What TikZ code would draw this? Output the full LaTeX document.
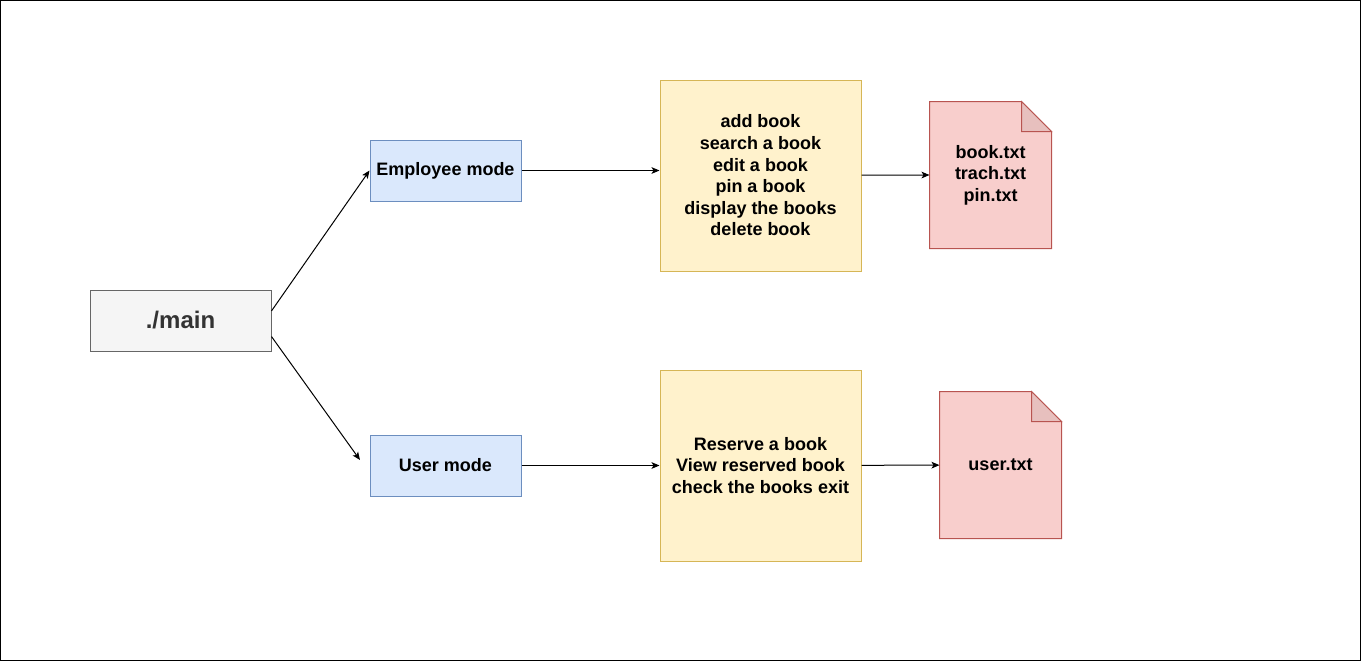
\documentclass[tikz,border=0pt]{standalone}
\usepackage{fontspec}
\setmainfont{Liberation Sans}
\usetikzlibrary{arrows.meta,backgrounds}
\definecolor{grayfill}{HTML}{F5F5F5}
\definecolor{graydraw}{HTML}{666666}
\definecolor{maintext}{HTML}{333333}
\definecolor{bluefill}{HTML}{DAE8FC}
\definecolor{bluedraw}{HTML}{6C8EBF}
\definecolor{yellowfill}{HTML}{FFF2CC}
\definecolor{yellowdraw}{HTML}{D6B656}
\definecolor{redfill}{HTML}{F8CECC}
\definecolor{reddraw}{HTML}{B85450}
\colorlet{foldfill}{redfill!93!black}
\begin{document}
\begin{tikzpicture}
[x=0.75pt,y=-0.75pt,
every node/.style={line width=0.75pt,align=center,font=\bfseries\fontsize{13.5}{16.2}\selectfont},
mainbox/.style={draw=graydraw,fill=grayfill,text=maintext,minimum width=135.75pt,minimum height=45.75pt,font=\bfseries\fontsize{18}{21.6}\selectfont},
modebox/.style={draw=bluedraw,fill=bluefill,minimum width=113.25pt,minimum height=45.75pt},
taskbox/.style={draw=yellowdraw,fill=yellowfill,minimum width=150.75pt,minimum height=143.25pt},
filebox/.style={minimum width=90.75pt,minimum height=109.5pt},
link/.style={line width=0.75pt,-{Stealth[length=6pt,width=5pt,inset=1.5pt]}}
]
\useasboundingbox (0,0) rectangle (1361,661);
\draw[line width=0.75pt] (0.5,0.5) rectangle (1360.5,660.5);
% boxes
\node[mainbox] (main) at (180.5,320.5) {./main};
\node[modebox] (employee) at (445.5,170.5) {Employee mode};
\node[modebox] (user) at (445.5,465.5) {User mode};
\node[taskbox] (emptasks) at (760.5,175.5) {add book\\search a book\\edit a book\\pin a book\\display the books\\delete book};
\node[taskbox] (usertasks) at (760.5,465.5) {Reserve a book\\View reserved book\\check the books exit};
\node[filebox] (empfiles) at (990.5,175) {book.txt\\trach.txt\\pin.txt};
\node[filebox] (userfiles) at (1000.5,465) {user.txt};
% file shapes
\begin{scope}[on background layer]
\foreach \f in {empfiles,userfiles}{
\draw[draw=reddraw,fill=redfill,line width=0.75pt] (\f.north west) -- ([xshift=-22.5pt]\f.north east) -- ([yshift=-22.5pt]\f.north east) -- (\f.south east) -- (\f.south west) -- cycle;
\draw[draw=reddraw,fill=foldfill,line width=0.75pt] ([xshift=-22.5pt]\f.north east) -- ([xshift=-22.5pt,yshift=-22.5pt]\f.north east) -- ([yshift=-22.5pt]\f.north east) -- cycle;
}
\end{scope}
% connectors
\coordinate (userend) at (360,460);
\draw[link] (main.6) -- (employee.west);
\draw[link] (main.-10) -- (userend);
\draw[link] (employee) -- (employee -| emptasks.west);
\draw[link] (emptasks) -- (empfiles.west);
\draw[link] (user) -- (usertasks);
\draw[link] (usertasks) -- (userfiles);
\end{tikzpicture}
\end{document}
